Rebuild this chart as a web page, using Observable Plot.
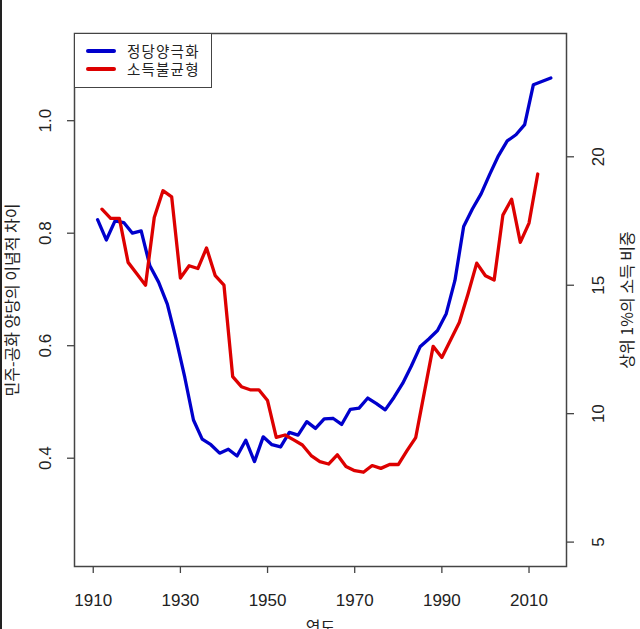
<!DOCTYPE html>
<html>
<head>
<meta charset="utf-8">
<script src="https://cdn.jsdelivr.net/npm/d3@7"></script>
<script src="https://cdn.jsdelivr.net/npm/@observablehq/plot@0.6"></script>
<style>
  body { margin: 0; background: #fff; }
  #wrap { position: relative; width: 640px; height: 629px; overflow: hidden; background: #fff; }
  #edge { position: absolute; left: 0; top: 0; width: 2px; height: 629px; background: #222; }
  .legend { position: absolute; left: 74px; top: 33px; width: 138px; height: 55px; border: 1.5px solid #444;
            background: #fff; box-sizing: border-box; font-family: "Noto Sans CJK KR", sans-serif; font-size: 14.5px;
            letter-spacing: 1.2px; color: #222; }
  .row { position: absolute; left: 0; height: 16px; line-height: 16px; display: flex; align-items: center; }
  .sw { display: inline-block; width: 30px; height: 4px; border-radius: 2px; margin-left: 11px; }
  .lab { display: inline-block; height: 16px; line-height: 16px; overflow: visible; margin-left: 11px; white-space: nowrap; }
</style>
</head>
<body>
<div id="wrap"><div id="edge"></div></div>
<script>
// ---- data ----
const polarYears = [1911,1913,1915,1917,1919,1921,1923,1925,1927,1929,1931,1933,1935,1937,1939,1941,1943,1945,1947,1949,
  1951,1953,1955,1957,1959,1961,1963,1965,1967,1969,1971,1973,1975,1977,1979,1981,1983,1985,1987,1989,
  1991,1993,1995,1997,1999,2001,2003,2005,2007,2009,2011,2015];
const polarization = [0.824,0.788,0.822,0.819,0.800,0.804,0.742,0.713,0.674,0.612,0.544,0.468,0.434,0.424,0.409,0.416,0.404,0.432,0.394,0.438,
  0.424,0.420,0.446,0.441,0.465,0.453,0.470,0.471,0.460,0.487,0.489,0.507,0.497,0.486,0.508,0.533,0.564,0.598,0.612,0.627,
  0.657,0.716,0.812,0.843,0.870,0.905,0.938,0.964,0.975,0.993,1.064,1.076];
const incomeYears = [1912,1914,1916,1918,1920,1922,1924,1926,1928,1930,1932,1934,1936,1938,1940,1942,1944,1946,1948,1950,
  1952,1954,1956,1958,1960,1962,1964,1966,1968,1970,1972,1974,1976,1978,1980,1982,1984,1986,1988,1990,
  1992,1994,1996,1998,2000,2002,2004,2006,2008,2010,2012];
const topShare = [17.96,17.6,17.6,15.89,15.45,15.0,17.64,18.68,18.44,15.28,15.76,15.65,16.45,15.37,15.0,11.44,11.05,10.93,10.93,10.51,
  9.08,9.17,8.98,8.78,8.37,8.13,8.04,8.4,7.94,7.78,7.72,7.98,7.87,8.02,8.02,8.56,9.07,10.85,12.62,12.19,
  12.87,13.55,14.66,15.86,15.37,15.2,17.73,18.35,16.67,17.42,19.33];
const xTicks = [1910, 1930, 1950, 1970, 1990, 2010];
const leftTicks = [0.4, 0.6, 0.8, 1.0];
const rightTicks = [5, 10, 15, 20];
const seriesNames = ["정당양극화", "소득불균형"];
const seriesColors = ["#0000cc", "#dd0000"];
const xTitle = "연도";
const leftTitle = "민주-공화 양당의 이념적 차이";
const rightTitle = "상위 1%의 소득 비중";

// ---- scales ----
const xDomain = [1905.7, 2018.6];
const leftDomain = [0.2075, 1.155];
const rightDomain = [4.05, 24.8];
const toLeft = d3.scaleLinear().domain(rightDomain).range(leftDomain);

const polarData = polarYears.map((y, i) => ({year: y, value: polarization[i]}));
const incomeData = incomeYears.map((y, i) => ({year: y, value: topShare[i]}));

const numFont = "'Liberation Sans', Arial, sans-serif";
const korFont = "'Noto Sans CJK KR', sans-serif";
const ink = "#222";
const axisInk = "#444";

const chart = Plot.plot({
  width: 640,
  height: 629,
  marginTop: 33,
  marginRight: 74,
  marginBottom: 63,
  marginLeft: 74,
  style: {background: "#fff", fontFamily: numFont, color: ink, overflow: "visible"},
  x: {domain: xDomain},
  y: {domain: leftDomain},
  marks: [
    Plot.line(polarData, {x: "year", y: "value", stroke: seriesColors[0], strokeWidth: 3.3, strokeLinejoin: "round", strokeLinecap: "round"}),
    Plot.line(incomeData, {x: "year", y: d => toLeft(d.value), stroke: seriesColors[1], strokeWidth: 3.3, strokeLinejoin: "round", strokeLinecap: "round"}),
    Plot.frame({stroke: axisInk, strokeWidth: 1.5}),
    Plot.axisX(xTicks, {tickSize: 7, stroke: axisInk, strokeWidth: 1.3, fill: "none", label: null}),
    Plot.axisY(leftTicks, {anchor: "left", tickSize: 7, stroke: axisInk, strokeWidth: 1.3, fill: "none", label: null}),
    Plot.axisY(rightTicks.map(d => toLeft(d)), {anchor: "right", tickSize: 7, stroke: axisInk, strokeWidth: 1.3, fill: "none", label: null}),
    Plot.text(xTicks, {x: d => d, frameAnchor: "bottom", dy: 34, lineAnchor: "middle", text: d => String(d), fontSize: 17, fill: ink}),
    Plot.text(leftTicks, {y: d => d, frameAnchor: "left", dx: -29, rotate: -90, lineAnchor: "middle", textAnchor: "middle", text: d => d.toFixed(1), fontSize: 17, fill: ink}),
    Plot.text(rightTicks, {y: d => toLeft(d), frameAnchor: "right", dx: 32, rotate: -90, lineAnchor: "middle", textAnchor: "middle", text: d => String(d), fontSize: 17, fill: ink}),
    Plot.text([xTitle], {frameAnchor: "bottom", dy: 61, lineAnchor: "middle", textAnchor: "middle", text: d => d, fontSize: 16, fontFamily: korFont, fill: ink}),
    Plot.text([leftTitle], {frameAnchor: "left", dx: -62, rotate: -90, lineAnchor: "middle", textAnchor: "middle", text: d => d, fontSize: 16, fontFamily: korFont, fill: ink}),
    Plot.text([rightTitle], {frameAnchor: "right", dx: 61, rotate: -90, lineAnchor: "middle", textAnchor: "middle", text: d => d, fontSize: 16, fontFamily: korFont, fill: ink})
  ]
});

const wrap = document.getElementById("wrap");
wrap.appendChild(chart);

// legend (HTML overlay, top-left inside the frame, like R's legend("topleft"))
const legend = document.createElement("div");
legend.className = "legend";
seriesNames.forEach((name, i) => {
  const row = document.createElement("div");
  row.className = "row";
  row.style.top = (9.2 + i * 17.6) + "px";
  const sw = document.createElement("span");
  sw.className = "sw";
  sw.style.background = seriesColors[i];
  const lab = document.createElement("span");
  lab.className = "lab";
  lab.textContent = name;
  row.appendChild(sw);
  row.appendChild(lab);
  legend.appendChild(row);
});
wrap.appendChild(legend);
</script>
</body>
</html>
